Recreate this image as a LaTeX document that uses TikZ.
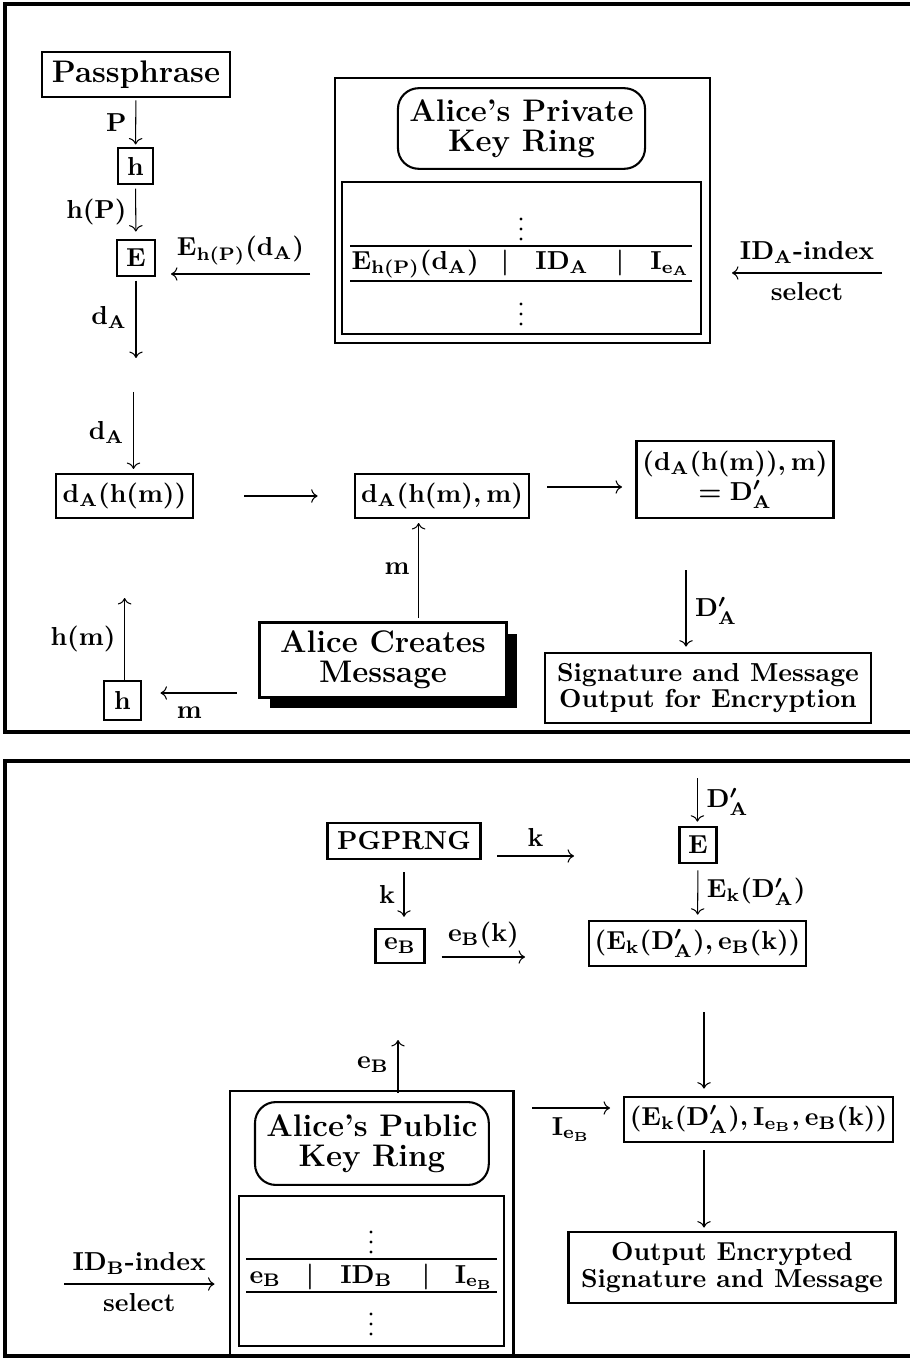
\documentclass[tikz,border=0pt]{standalone}
\usepackage{amsmath, amssymb}
\usepackage{tikz}
\usetikzlibrary{arrows.meta, positioning, shadows}

\begin{document}
\begin{tikzpicture}[x=1.3517cm, y=-1.3517cm, >=To,
    every node/.style={font=\bfseries\boldmath},
    box/.style={draw, line width=1pt, inner sep=2pt, align=center},
    keybox/.style={draw, line width=1pt, inner sep=0pt},
    ringtitle/.style={draw, line width=0.8pt, rounded corners=8pt, align=center,
                      font=\large\bfseries},
    cell/.style={anchor=base, inner sep=0pt},
    outerframe/.style={line width=1.2pt},
    flow/.style={->, line width=0.4pt},
    rule/.style={line width=0.5pt}]
    \useasboundingbox (0,0) rectangle (9.09,13.59);

    % the two panels
    \draw[outerframe] (9.30,0.04) -- (0.05,0.04) -- (0.05,7.32) -- (9.30,7.32);
    \draw[outerframe] (9.30,7.61) -- (0.05,7.61) -- (0.05,13.56) -- (9.30,13.56);

    % --- signing ---
    \node[box, minimum width=2.54cm, minimum height=0.61cm, font=\large\bfseries] (pass) at (1.36,0.745) {Passphrase};
    \node[box, minimum width=0.47cm, minimum height=0.49cm] (hP) at (1.355,1.66) {h};
    \node[box, minimum width=0.51cm, minimum height=0.49cm] (encA) at (1.36,2.58) {E};
    \node[box, minimum width=1.85cm, minimum height=0.59cm] (dh) at (1.245,4.96) {$\mathbf{d_A(h(m))}$};
    \node[box, minimum width=2.35cm, minimum height=0.59cm] (dhm) at (4.42,4.96) {$\mathbf{d_A(h(m),m)}$};
    \node[box, minimum width=2.66cm, minimum height=1.04cm] (dsig) at (7.35,4.795) {$\mathbf{(d_A(h(m)),m)}$\\[-0.5pt]$\mathbf{=D'_A}$};
    \node[box, minimum width=4.41cm, minimum height=0.95cm] (sigout) at (7.08,6.88) {Signature and Message\\[-1.7pt]Output for Encryption};
    \node[box, fill=white, minimum width=3.34cm, minimum height=1.01cm, font=\large\bfseries,
          drop shadow={shadow xshift=4.2pt, shadow yshift=-4.2pt, fill=black, opacity=1}] (alice) at (3.83,6.60) {Alice Creates\\[-2.5pt]Message};
    \node[box, minimum width=0.50cm, minimum height=0.53cm] (hm) at (1.225,7.005) {h};

    % private key ring
    \node[keybox, minimum width=5.07cm, minimum height=3.58cm] (privring) at (5.225,2.105) {};
    \node[ringtitle, minimum width=3.34cm, minimum height=1.09cm] (privname) at (5.215,1.285) {Alice's Private\\[-2.5pt]Key Ring};
    \node[keybox, minimum width=4.85cm, minimum height=2.05cm] (privtab) at (5.215,2.58) {};
    \draw[rule] (3.50,2.46) -- (6.92,2.46);
    \draw[rule] (3.50,2.81) -- (6.92,2.81);
    \foreach \dy in {0,0.10,0.20} {
      \fill (5.21,{2.19+\dy}) circle (0.6pt);
      \fill (5.21,{3.04+\dy}) circle (0.6pt);
    }
    \node[cell, anchor=base west] (privkey) at (3.51,2.695) {$\mathbf{E_{h(P)}(d_A)}$};
    \node[cell] (privbar1) at (5.05,2.695) {$|$};
    \node[cell] (privid) at (5.62,2.695) {$\mathbf{ID_A}$};
    \node[cell] (privbar2) at (6.20,2.695) {$|$};
    \node[cell] (prividx) at (6.70,2.695) {$\mathbf{I_{e_A}}$};

    % free ends of the connectors
    \coordinate (dAend) at (1.36,3.58);
    \coordinate (dAtop) at (1.335,3.92);
    \coordinate (keyout) at (3.10,2.74);
    \coordinate (keyin) at (1.71,2.74);
    \coordinate (idAout) at (8.82,2.73);
    \coordinate (idAin) at (7.32,2.73);
    \coordinate (packout) at (5.47,4.87);
    \coordinate (packin) at (6.22,4.87);
    \coordinate (mout) at (4.186,6.18);
    \coordinate (sigfrom) at (6.86,5.70);
    \coordinate (hmto) at (1.246,5.98);
    \coordinate (hmfrom) at (2.365,6.93);

    \draw[flow, shorten <=0.8pt, shorten >=0.8pt] (pass) -- node[left] {$\mathbf{P}$} (hP);
    \draw[flow, shorten <=1.2pt, shorten >=2.7pt] (hP) -- node[left] {$\mathbf{h(P)}$} (encA);
    \draw[flow, shorten <=1.2pt] (encA) -- node[left] {$\mathbf{d_A}$} (dAend);
    \draw[flow, shorten >=1.5pt] (dAtop) -- node[left] {$\mathbf{d_A}$} (dAtop |- dh.north);
    \draw[flow] (keyout) -- node[above] {$\mathbf{E_{h(P)}(d_A)}$} (keyin);
    \draw[flow] (idAout) -- node[above] {$\mathbf{ID_A}$-index} node[below] {select} (idAin);
    \draw[flow, shorten <=19.2pt, shorten >=13.9pt] (dh) -- (dhm);
    \draw[flow] (packout) -- (packin);
    \draw[flow, shorten >=1.5pt] (mout) -- node[left] {$\mathbf{m}$} (mout |- dhm.south);
    \draw[flow, shorten >=1.9pt] (sigfrom) -- node[right] {$\mathbf{D'_A}$} (sigfrom |- sigout.north);
    \draw[flow] (hm.north -| hmto) -- node[left] {$\mathbf{h(m)}$} (hmto);
    \draw[flow, shorten >=7pt] (hmfrom) -- node[below, yshift=-2pt] {$\mathbf{m}$} (hmfrom -| hm.east);

    % --- encryption ---
    \node[box, minimum width=0.50cm, minimum height=0.49cm] (encB) at (6.98,8.45) {E};
    \node[box, minimum width=2.07cm, minimum height=0.49cm] (prng) at (4.04,8.41) {PGPRNG};
    \node[box, minimum width=0.66cm, minimum height=0.46cm] (eb) at (4.00,9.46) {$\mathbf{e_B}$};
    \node[box, minimum width=2.93cm, minimum height=0.61cm] (pair) at (6.975,9.435) {$\mathbf{(E_k(D'_A),e_B(k))}$};
    \node[box, minimum width=3.64cm, minimum height=0.61cm] (triple) at (7.585,11.195) {$\mathbf{(E_k(D'_A),I_{e_B},e_B(k))}$};
    \node[box, minimum width=4.42cm, minimum height=0.96cm] (encout) at (7.32,12.675) {Output Encrypted\\[-1.7pt]Signature and Message};

    % public key ring
    \node[keybox, minimum width=3.83cm, minimum height=3.57cm] (pubring) at (3.718,12.23) {};
    \node[ringtitle, minimum width=3.16cm, minimum height=1.12cm] (pubname) at (3.719,11.435) {Alice's Public\\[-2.5pt]Key Ring};
    \node[keybox, minimum width=3.58cm, minimum height=2.03cm] (pubtab) at (3.715,12.71) {};
    \draw[rule] (2.46,12.59) -- (4.97,12.59);
    \draw[rule] (2.46,12.92) -- (4.97,12.92);
    \foreach \dy in {0,0.10,0.20} {
      \fill (3.71,{12.32+\dy}) circle (0.6pt);
      \fill (3.71,{13.14+\dy}) circle (0.6pt);
    }
    \node[cell, anchor=base west] (pubkey) at (2.49,12.83) {$\mathbf{e_B}$};
    \node[cell] (pubbar1) at (3.10,12.83) {$|$};
    \node[cell] (pubid) at (3.665,12.83) {$\mathbf{ID_B}$};
    \node[cell] (pubbar2) at (4.26,12.83) {$|$};
    \node[cell] (pubidx) at (4.74,12.83) {$\mathbf{I_{e_B}}$};

    \coordinate (dsigin) at (6.974,7.78);
    \coordinate (kout) at (4.97,8.56);
    \coordinate (kin) at (5.74,8.56);
    \coordinate (ekout) at (4.417,9.57);
    \coordinate (ekin) at (5.25,9.57);
    \coordinate (pairdown) at (7.04,10.12);
    \coordinate (tripdown) at (7.04,11.50);
    \coordinate (ieout) at (5.32,11.08);
    \coordinate (iein) at (6.10,11.08);
    \coordinate (ebup) at (3.98,10.40);
    \coordinate (idBout) at (0.64,12.84);
    \coordinate (idBin) at (2.145,12.84);

    \draw[flow, shorten >=1.5pt] (dsigin) -- node[right] {$\mathbf{D'_A}$} (dsigin |- encB.north);
    \draw[flow] (kout) -- node[above] {$\mathbf{k}$} (kin);
    \draw[flow, shorten <=4.6pt, shorten >=4.2pt] (prng.south) -- node[left] {$\mathbf{k}$} (prng.south |- eb.north);
    \draw[flow] (ekout) -- node[above] {$\mathbf{e_B(k)}$} (ekin);
    \draw[flow, shorten <=2.3pt, shorten >=1.9pt] (encB) -- node[right] {$\mathbf{E_k(D'_A)}$} (pair);
    \draw[flow, shorten >=2.7pt] (pairdown) -- (pairdown |- triple.north);
    \draw[flow, shorten >=1.2pt] (tripdown) -- (tripdown |- encout.north);
    \draw[flow] (ieout) -- node[below] {$\mathbf{I_{e_B}}$} (iein);
    \draw[flow, shorten <=-1.2pt] (pubring.north -| ebup) -- node[left] {$\mathbf{e_B}$} (ebup);
    \draw[flow] (idBout) -- node[above] {$\mathbf{ID_B}$-index} node[below] {select} (idBin);
\end{tikzpicture}
\end{document}
